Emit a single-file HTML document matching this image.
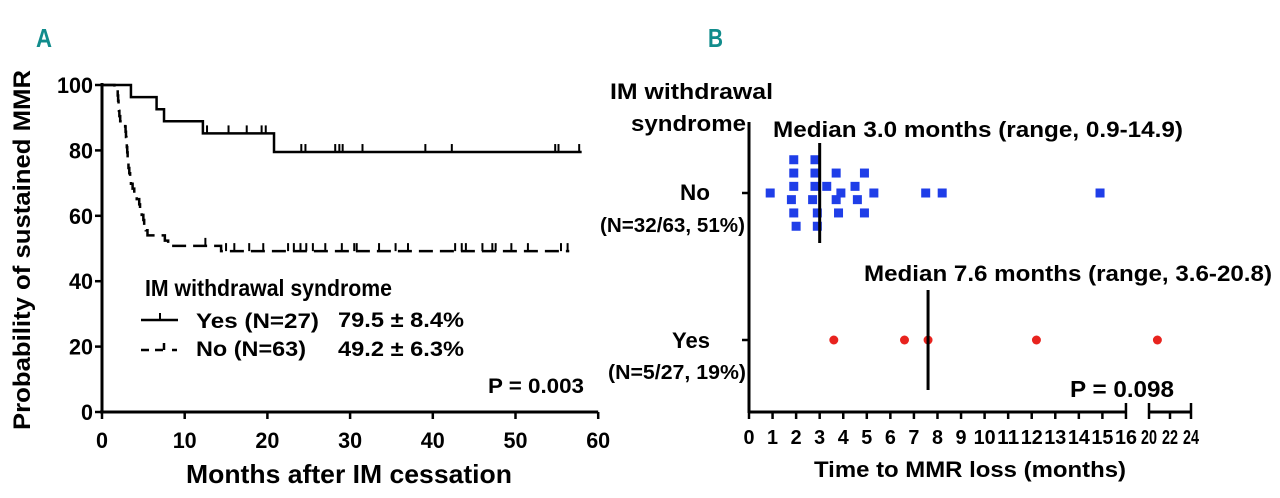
<!DOCTYPE html>
<html><head><meta charset="utf-8"><style>
html,body{margin:0;padding:0;background:#fff;}
svg{display:block;font-family:"Liberation Sans Narrow","Liberation Sans",sans-serif;font-weight:bold;}
</style></head><body>
<svg id="fig" width="1280" height="498" viewBox="0 0 1280 498" xmlns="http://www.w3.org/2000/svg">
<text x="36" y="47" font-size="26" fill="#118c8c" textLength="16" lengthAdjust="spacingAndGlyphs">A</text>
<text x="708" y="47" font-size="26" fill="#118c8c" textLength="15" lengthAdjust="spacingAndGlyphs">B</text>
<g id="pa"></g>
<g id="pb"></g>
</svg>
<script>
// ---------- Panel A data ----------
const aXTicks = [0,10,20,30,40,50,60];
const aYTicks = [0,20,40,60,80,100];
const yesTimes = [0,3.5,6.6,7.5,12.2,20.8,58];
const yesSurv  = [100,96.3,92.6,88.9,85.2,79.5,79.5];
const yesCensorT = [12.7,15.3,17.5,19.3,19.8,24.1,24.6,28.2,28.7,29.1,31.5,39.1,42.3,54.8,55.2,57.7];
const noTimes = [0,1.5,1.9,1.95,2.0,2.05,2.1,2.2,2.8,2.85,2.9,2.95,3.0,3.05,3.1,3.15,3.2,3.3,3.4,3.5,3.7,3.9,4.2,4.5,4.6,4.8,5.0,5.1,5.3,5.5,7.6,8.0,14.4,56.5];
const noSurv  = [100,98.4,96.8,95.2,93.7,92.1,90.5,88.9,87.3,85.7,84.1,82.5,81.0,79.4,77.8,76.2,74.6,73.0,71.4,69.8,68.3,66.7,65.1,63.5,61.9,60.3,58.7,57.1,55.6,54.0,52.4,50.8,49.2,49.2];
const noCensorT = [12.5,15.0,16.0,17.8,19.5,22.5,23.2,24.0,24.7,25.5,27.0,29.0,30.5,30.8,33.5,35.5,37.0,42.7,43.5,44.0,46.0,47.2,47.6,49.5,51.5,55.5,56.3];

// ---------- Panel B data ----------
const bTicksLow = [0,1,2,3,4,5,6,7,8,9,10,11,12,13,14,15,16];
const bTicksHigh = [20,22,24];
const noLossT = [0.9,1.9,1.9,1.9,1.8,1.9,2.0,2.8,2.8,2.8,2.7,2.9,2.9,3.3,3.7,3.7,3.9,3.8,4.5,4.6,4.9,4.9,5.3,7.5,8.2,14.9];
const noLossRow = [0,-2.5,-1.5,-0.5,0.5,1.5,2.5,-2.5,-1.5,-0.5,0.5,1.5,2.5,-0.5,-1.5,0.5,0,1.5,-0.5,0.5,-1.5,1.5,0,0,0,0];
const yesLossT = [3.6,6.6,7.6,12.2,20.8];
const medianNo = 3.0, medianYes = 7.6;

const NS="http://www.w3.org/2000/svg";
function mk(parent,tag,attrs,txt){const e=document.createElementNS(NS,tag);for(const k in attrs)e.setAttribute(k,attrs[k]);if(attrs.textLength)e.setAttribute('lengthAdjust','spacingAndGlyphs');if(txt!==undefined)e.textContent=txt;parent.appendChild(e);return e;}

// Panel A scales
const ax = t => 102 + t*8.27;
const ay = v => 412 - v*3.27;
const pa = document.getElementById('pa');
let e;
e=mk(pa,'line',{x1:102,y1:ay(100)-2,x2:102,y2:412,stroke:'#000','stroke-width':3});


e=mk(pa,'line',{x1:100,y1:412,x2:ax(60),y2:412,stroke:'#000','stroke-width':3});


aYTicks.forEach(v=>{
  mk(pa,'line',{x1:95,y1:ay(v),x2:102,y2:ay(v),stroke:'#000','stroke-width':2.5});
  e=mk(pa,'text',{x:93,y:ay(v)+8,'font-size':22,'text-anchor':'end',textLength:v>=100?36:(v>0?24:12)},String(v));
  
  
});
aXTicks.forEach(v=>{
  mk(pa,'line',{x1:ax(v),y1:412,x2:ax(v),y2:419,stroke:'#000','stroke-width':2.5});
  e=mk(pa,'text',{x:ax(v),y:448,'font-size':22,'text-anchor':'middle',textLength:v>0?24:12},String(v));
  
  
});
e=mk(pa,'text',{x:349,y:483,'font-size':26,'text-anchor':'middle',textLength:326},'Months after IM cessation');


e=mk(pa,'text',{x:0,y:0,'font-size':24,'text-anchor':'middle',transform:'translate(30,250) rotate(-90)',textLength:360},'Probability of sustained MMR');


function stepPath(ts,ss){let d='M'+ax(ts[0])+','+ay(ss[0]);for(let i=1;i<ts.length;i++){d+=' H'+ax(ts[i])+' V'+ay(ss[i]);}return d;}
function survAt(ts,ss,t){let s=ss[0];for(let i=0;i<ts.length;i++){if(ts[i]<=t)s=ss[i];}return s;}
e=mk(pa,'path',{d:stepPath(yesTimes,yesSurv),fill:'none',stroke:'#000','stroke-width':2.5});


e=mk(pa,'path',{d:stepPath(noTimes,noSurv),fill:'none',stroke:'#000','stroke-width':2.5,'stroke-dasharray':'14,7'});


yesCensorT.forEach(t=>{const y=ay(survAt(yesTimes,yesSurv,t));
  e=mk(pa,'line',{x1:ax(t),y1:y,x2:ax(t),y2:y-8,stroke:'#000','stroke-width':2});
  
  });
noCensorT.forEach(t=>{const y=ay(survAt(noTimes,noSurv,t));
  e=mk(pa,'line',{x1:ax(t),y1:y,x2:ax(t),y2:y-8,stroke:'#000','stroke-width':2});
  
  });
// legend
e=mk(pa,'text',{x:145,y:296,'font-size':23,textLength:247},'IM withdrawal syndrome');


mk(pa,'line',{x1:141,y1:320,x2:178,y2:320,stroke:'#000','stroke-width':2.5});
mk(pa,'line',{x1:160,y1:320,x2:160,y2:313,stroke:'#000','stroke-width':2});
e=mk(pa,'text',{x:196,y:328,'font-size':21,textLength:123},'Yes (N=27)');


e=mk(pa,'text',{x:338,y:327,'font-size':21,textLength:126},'79.5 \u00b1 8.4%');


mk(pa,'path',{d:'M141,350 h8 M155,350 h8 M164,350 v-7 M172,350 h5',fill:'none',stroke:'#000','stroke-width':2.5});
e=mk(pa,'text',{x:196,y:356,'font-size':21,textLength:110},'No (N=63)');


e=mk(pa,'text',{x:338,y:356,'font-size':21,textLength:126},'49.2 \u00b1 6.3%');


e=mk(pa,'text',{x:584,y:393,'font-size':21,'text-anchor':'end',textLength:96},'P = 0.003');



// Panel B scales
const bx = t => t<=16 ? 749 + t*23.56 : 1149 + (t-20)*10.5;
const rowNo = 193, rowYes = 340;
const pb = document.getElementById('pb');
e=mk(pb,'line',{x1:749,y1:122,x2:749,y2:413,stroke:'#000','stroke-width':3});


e=mk(pb,'line',{x1:748,y1:412,x2:bx(16),y2:412,stroke:'#000','stroke-width':3});


e=mk(pb,'line',{x1:bx(20),y1:412,x2:bx(24),y2:412,stroke:'#000','stroke-width':3});


mk(pb,'line',{x1:742,y1:rowNo,x2:749,y2:rowNo,stroke:'#000','stroke-width':2.5});
mk(pb,'line',{x1:742,y1:rowYes,x2:749,y2:rowYes,stroke:'#000','stroke-width':2.5});
bTicksLow.concat(bTicksHigh).forEach(v=>{
  const brk = (v===16||v===20||v===24);
  if(brk) mk(pb,'line',{x1:bx(v),y1:403,x2:bx(v),y2:419,stroke:'#000','stroke-width':2.5});
  else mk(pb,'line',{x1:bx(v),y1:412,x2:bx(v),y2:419,stroke:'#000','stroke-width':2.5});
  e=mk(pb,'text',{x:bx(v),y:444,'font-size':20,'text-anchor':'middle',textLength:v>=20?16:(v>=10?22:11)},String(v));
  
  
});
e=mk(pb,'text',{x:970,y:477,'font-size':22,'text-anchor':'middle',textLength:312},'Time to MMR loss (months)');


e=mk(pb,'text',{x:610,y:99,'font-size':22,textLength:163},'IM withdrawal');


e=mk(pb,'text',{x:746,y:131,'font-size':22,'text-anchor':'end',textLength:115},'syndrome');


e=mk(pb,'text',{x:710,y:200,'font-size':22,'text-anchor':'end',textLength:30},'No');


e=mk(pb,'text',{x:745,y:232,'font-size':20,'text-anchor':'end',textLength:145},'(N=32/63, 51%)');


e=mk(pb,'text',{x:710,y:348,'font-size':22,'text-anchor':'end',textLength:38},'Yes');


e=mk(pb,'text',{x:746,y:379,'font-size':20,'text-anchor':'end',textLength:138},'(N=5/27, 19%)');


e=mk(pb,'text',{x:773,y:137,'font-size':22,textLength:410},'Median 3.0 months (range, 0.9-14.9)');


e=mk(pb,'text',{x:864,y:281,'font-size':22,textLength:408},'Median 7.6 months (range, 3.6-20.8)');


e=mk(pb,'text',{x:1070,y:397,'font-size':23,textLength:104},'P = 0.098');


noLossT.forEach((t,i)=>{
  e=mk(pb,'rect',{x:bx(t)-4.5,y:rowNo+noLossRow[i]*13.3-4.5,width:9,height:9,fill:'#1f3ee8'});
  
  
});
yesLossT.forEach(t=>{
  e=mk(pb,'circle',{cx:bx(t),cy:rowYes,r:4.5,fill:'#e8231e'});
  
  
});
e=mk(pb,'line',{x1:bx(medianNo),y1:143,x2:bx(medianNo),y2:243,stroke:'#000','stroke-width':3});


e=mk(pb,'line',{x1:bx(medianYes),y1:290,x2:bx(medianYes),y2:390,stroke:'#000','stroke-width':3});


</script>
</body></html>
